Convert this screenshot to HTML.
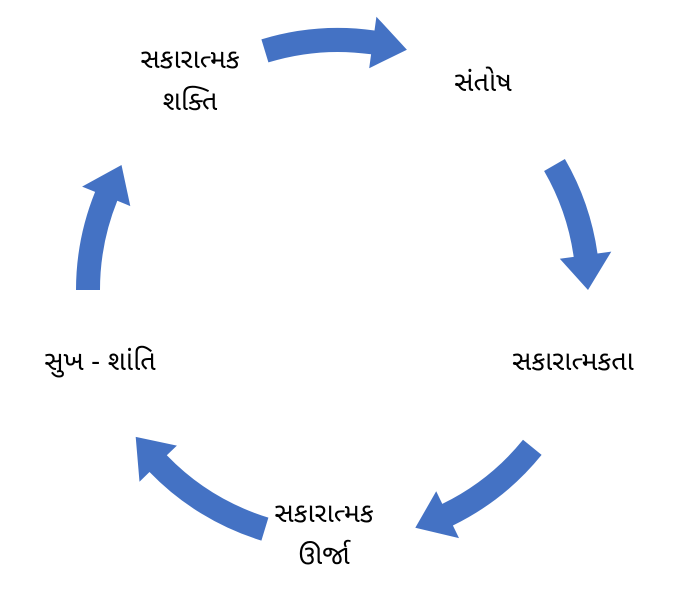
<!DOCTYPE html>
<html><head><meta charset="utf-8"><style>
html,body{margin:0;padding:0;background:#fff;}
body{width:677px;height:594px;position:relative;overflow:hidden;font-family:"Liberation Sans","Noto Sans Gujarati","Lohit Gujarati",sans-serif;}
.t{position:absolute;font-size:27px;color:#000;text-align:center;line-height:42px;white-space:nowrap;}
svg{position:absolute;left:0;top:0;}
</style></head><body>
<svg id="s" width="677" height="594" xmlns="http://www.w3.org/2000/svg"></svg>
<div class="t" style="left:110px;top:38px;width:160px;">સકારાત્મક<br>શક્તિ</div>
<div class="t" style="left:423px;top:61px;width:120px;">સંતોષ</div>
<div class="t" style="left:493px;top:340px;width:160px;">સકારાત્મકતા</div>
<div class="t" style="left:256px;top:492px;width:136px;">સકારાત્મક<br>ઊર્જા</div>
<div class="t" style="left:20px;top:340px;width:160px;">સુખ - શાંતિ</div>
<script>
var cx=338,cy=290,R=250,w=12,hw=26,hd=8;
var arcs=[[-107,-74],[-30,0],[39,72],[107,144],[180,210]];
var s=document.getElementById('s'),h='';
function p(a,r){a=a*Math.PI/180;return (cx+r*Math.cos(a)).toFixed(1)+','+(cy+r*Math.sin(a)).toFixed(1);}
arcs.forEach(function(e){
 var a0=e[0],a1=e[1],ab=a1-hd;
 var d='M'+p(a0,R+w)+' A'+(R+w)+','+(R+w)+' 0 0 1 '+p(ab,R+w)+' L'+p(ab,R+hw)+' L'+p(a1,R)+' L'+p(ab,R-hw)+' L'+p(ab,R-w)+' A'+(R-w)+','+(R-w)+' 0 0 0 '+p(a0,R-w)+' Z';
 h+='<path d="'+d+'" fill="#4472C4"/>';
});
s.innerHTML=h;
</script>
</body></html>
